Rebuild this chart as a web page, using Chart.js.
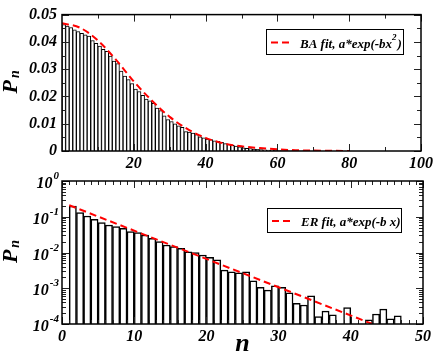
<!DOCTYPE html>
<html>
<head>
<meta charset="utf-8">
<script src="https://cdn.jsdelivr.net/npm/chart.js@4.4.1/dist/chart.umd.min.js"></script>
<style>
  html, body { margin: 0; padding: 0; background: #fff; }
  #wrap { position: relative; width: 436px; height: 356px; }
  canvas { position: absolute; left: 0; }
</style>
</head>
<body>
<div id="wrap">
  <canvas id="baChart" width="436" height="178" style="top:0"></canvas>
  <canvas id="erChart" width="436" height="191" style="top:165px"></canvas>
</div>
<script>
// BA network degree histogram (bins [n, n+1))
const baN = [0,1,2,3,4,5,6,7,8,9,10,11,12,13,14,15,16,17,18,19,20,21,22,23,24,25,26,27,28,29,
  30,31,32,33,34,35,36,37,38,39,40,41,42,43,44,45,46,47,48,49,50,51,52,53,54,55,56,57,58,59,
  60,61,62,63,64,65,66,67,68,69];
const baP = [0.0463,0.0458,0.0452,0.0444,0.0438,0.0431,0.0426,0.0421,0.0405,0.0395,
  0.0385,0.0373,0.0365,0.0348,0.0330,0.0320,0.0293,0.0275,0.0262,0.0247,
  0.0227,0.0218,0.0204,0.0190,0.0184,0.0175,0.0157,0.0148,0.0129,0.0115,
  0.0108,0.0100,0.0092,0.0087,0.0071,0.0069,0.0066,0.0060,0.0052,0.0048,
  0.0044,0.0042,0.0037,0.0035,0.0032,0.0027,0.0024,0.0021,0.0018,0.0015,
  0.0012,0.0010,0.0009,0.0007,0.0006,0.0005,0.0004,0.0003,0.00025,0.0002,
  0.00015,0.0001,0.0001,0.00008,0.00006,0.00005,0.00004,0.00003,0.00002,0.00001];
const baFitN = [0,5,10,15,20,25,30,35,40,45,50,55,60,65,70,75,80];
const baFitP = [0.0468,0.0452,0.0405,0.0335,0.0255,0.0185,0.0125,0.0080,0.0048,
  0.0028,0.0017,0.0011,0.0006,0.0003,0.00015,0.00007,0.00003];
const baXTicks = [20,40,60,80,100];
const baXMinor = [10,30,50,70,90];
const baYTicks = [0,0.01,0.02,0.03,0.04,0.05];
const baYMinor = [0.005,0.015,0.025,0.035,0.045];

// ER network degree histogram, log scale
const erN = [1,2,3,4,5,6,7,8,9,10,11,12,13,14,15,16,17,18,19,20,21,22,23,
  24,25,26,27,28,29,30,31,32,33,34,35,36,37,38,39,40,41,42,43,44,45,46];
const erP = [0.200,0.130,0.105,0.0847,0.0683,0.0588,0.0528,0.0474,0.0383,0.0359,
  0.0309,0.0249,0.0201,0.0162,0.0146,0.0131,0.0105,0.0099,0.0085,0.0073,
  0.0062,0.0032,0.0029,0.0027,0.0029,0.0016,0.00106,0.00089,0.00116,0.00106,
  0.00075,0.00038,0.00034,0.00061,0.00016,0.00023,0.00018,null,0.00029,null,
  null,0.00013,0.00019,0.00026,0.00014,0.00017];
const erFitN = [1,43];
const erFitP = [0.21,0.0001];
const erXTicks = [0,10,20,30,40,50];
const erYTicks = [1e-4,1e-3,1e-2,1e-1,1];
const erYExp = ['-4','-3','-2','-1','0'];

const serif = '"Liberation Serif", "Times New Roman", serif';
const tickFont = { family: serif, size: 16, weight: 'bold', style: 'italic' };

// minor ticks for the two inner axes
const erXMinor = [];
for (let i = 1; i < 50; i++) if (i % 10) erXMinor.push(i);
const erYMinor = [];
erYTicks.slice(0, -1).forEach(d => { for (let m = 2; m < 10; m++) erYMinor.push(m * d); });

function hline(ctx, x1, y1, x2, y2) {
  ctx.beginPath(); ctx.moveTo(x1, y1); ctx.lineTo(x2, y2); ctx.stroke();
}

// frame and inward ticks on all four sides
function framePlugin(t) {
  return {
    id: 'frame',
    afterDraw(chart) {
      const { ctx, chartArea: a, scales: { x, y } } = chart;
      ctx.save();
      ctx.strokeStyle = '#222';
      ctx.lineWidth = 1;
      const xt = (vals, len) => vals.forEach(v => {
        const px = Math.round(x.getPixelForValue(v)) + 0.5;
        hline(ctx, px, a.bottom, px, a.bottom - len);
        hline(ctx, px, a.top, px, a.top + len);
      });
      const yt = (vals, len) => vals.forEach(v => {
        const py = Math.round(y.getPixelForValue(v)) + 0.5;
        hline(ctx, a.left, py, a.left + len, py);
        hline(ctx, a.right, py, a.right - len, py);
      });
      xt(t.xMajor, 7); xt(t.xMinor, 4);
      yt(t.yMajor, 7); yt(t.yMinor, 4);
      ctx.strokeStyle = '#000';
      ctx.lineWidth = 1.5;
      ctx.strokeRect(a.left, a.top, a.right - a.left, a.bottom - a.top);
      ctx.restore();
    }
  };
}

// legend box with red dashed sample and text with optional superscript
function legendPlugin(box, parts) {
  return {
    id: 'fitLegend',
    afterDraw(chart) {
      const ctx = chart.ctx;
      ctx.save();
      ctx.fillStyle = '#fff';
      ctx.fillRect(box.x, box.y, box.w, box.h);
      ctx.strokeStyle = '#000';
      ctx.lineWidth = 1;
      ctx.strokeRect(box.x + 0.5, box.y + 0.5, box.w, box.h);
      const my = box.y + box.h / 2 + 1;
      ctx.strokeStyle = '#ff0000';
      ctx.lineWidth = 2;
      ctx.setLineDash([7, 4]);
      hline(ctx, box.x + 5, my, box.x + 26, my);
      ctx.setLineDash([]);
      ctx.fillStyle = '#000';
      let tx = box.x + 34;
      const by = my + 5;
      parts.forEach(p => {
        ctx.font = p.sup ? 'italic bold 9px ' + serif : 'italic bold 13px ' + serif;
        ctx.fillText(p.t, tx, p.sup ? by - 8 : by);
        tx += ctx.measureText(p.t).width + (p.sup ? 1 : 0);
      });
      ctx.restore();
    }
  };
}

// rotated P_n axis title
function pnTitle() {
  return {
    id: 'pnTitle',
    afterDraw(chart) {
      const { ctx, chartArea: a } = chart;
      const cy = (a.top + a.bottom) / 2;
      ctx.save();
      ctx.translate(17, cy);
      ctx.rotate(-Math.PI / 2);
      ctx.fillStyle = '#000';
      ctx.font = 'italic bold 22px ' + serif;
      const wP = ctx.measureText('P').width;
      ctx.font = 'italic bold 14px ' + serif;
      const wn = ctx.measureText('n').width;
      const x0 = -(wP + wn) / 2;
      ctx.font = 'italic bold 22px ' + serif;
      ctx.fillText('P', x0, 0);
      ctx.font = 'italic bold 14px ' + serif;
      ctx.fillText('n', x0 + wP + 2, 2);
      ctx.restore();
    }
  };
}

// 10^k labels on the log axis
function powerLabels() {
  return {
    id: 'powerLabels',
    afterDraw(chart) {
      const { ctx, scales: { y } } = chart;
      ctx.save();
      ctx.fillStyle = '#000';
      erYTicks.forEach((v, i) => {
        const py = y.getPixelForValue(v);
        ctx.font = 'italic bold 11px ' + serif;
        const ws = ctx.measureText(erYExp[i]).width;
        ctx.font = 'italic bold 16px ' + serif;
        const wb = ctx.measureText('10').width;
        const right = 59;
        ctx.fillText('10', right - ws - wb - 1, py + 7);
        ctx.font = 'italic bold 11px ' + serif;
        ctx.fillText(erYExp[i], right - ws, py - 2);
      });
      ctx.restore();
    }
  };
}

function xTitle() {
  return {
    id: 'xTitle',
    afterDraw(chart) {
      const { ctx, chartArea: a } = chart;
      ctx.save();
      ctx.fillStyle = '#000';
      ctx.font = 'italic bold 26px ' + serif;
      ctx.textAlign = 'center';
      ctx.fillText('n', (a.left + a.right) / 2, 186);
      ctx.restore();
    }
  };
}

// top chart: BA
new Chart(document.getElementById('baChart'), {
  type: 'bar',
  data: {
    datasets: [
      {
        type: 'line',
        data: baFitN.map((n, i) => ({ x: n, y: baFitP[i] })),
        borderColor: '#ff0000',
        borderWidth: 2,
        borderDash: [7, 4],
        pointRadius: 0,
        cubicInterpolationMode: 'monotone',
        order: 0
      },
      {
        data: baN.map((n, i) => ({ x: n + 0.5, y: baP[i] })),
        backgroundColor: '#fff',
        borderColor: '#000',
        borderWidth: 1,
        barPercentage: 1,
        categoryPercentage: 1,
        order: 1
      }
    ]
  },
  options: {
    responsive: false,
    animation: false,
    layout: { padding: { top: 6, right: 13, left: 0, bottom: 0 } },
    plugins: { legend: { display: false }, tooltip: { enabled: false } },
    scales: {
      x: {
        type: 'linear', min: 0, max: 100, offset: false,
        grid: { display: false, drawTicks: false, offset: false },
        border: { display: false },
        afterBuildTicks: s => { s.ticks = baXTicks.map(v => ({ value: v })); },
        afterFit: s => { s.height = 27; },
        ticks: { font: tickFont, color: '#000', padding: 3, maxRotation: 0, autoSkip: false }
      },
      y: {
        min: 0, max: 0.05,
        grid: { display: false, drawTicks: false },
        border: { display: false },
        afterBuildTicks: s => { s.ticks = baYTicks.map(v => ({ value: v })); },
        afterFit: s => { s.width = 62; },
        ticks: {
          font: tickFont, color: '#000', padding: 5,
          callback: v => (v === 0 ? '0' : v.toFixed(2))
        }
      }
    }
  },
  plugins: [
    framePlugin({ xMajor: baXTicks, xMinor: baXMinor, yMajor: baYTicks, yMinor: baYMinor }),
    legendPlugin({ x: 266, y: 29, w: 137, h: 25 },
      [{ t: 'BA fit, a*exp(-bx' }, { t: '2', sup: true }, { t: ')' }]),
    pnTitle()
  ]
});

// bottom chart: ER
new Chart(document.getElementById('erChart'), {
  type: 'bar',
  data: {
    datasets: [
      {
        type: 'line',
        data: erFitN.map((n, i) => ({ x: n, y: erFitP[i] })),
        borderColor: '#ff0000',
        borderWidth: 2,
        borderDash: [7, 4],
        pointRadius: 0,
        order: 0
      },
      {
        data: erN.map((n, i) => ({ x: n + 0.5, y: erP[i] })),
        backgroundColor: '#fff',
        borderColor: '#000',
        borderWidth: 1.5,
        barPercentage: 1,
        categoryPercentage: 1,
        order: 1
      }
    ]
  },
  options: {
    responsive: false,
    animation: false,
    layout: { padding: { top: 16, right: 13, left: 0, bottom: 0 } },
    plugins: { legend: { display: false }, tooltip: { enabled: false } },
    scales: {
      x: {
        type: 'linear', min: 0, max: 50, offset: false,
        grid: { display: false, drawTicks: false, offset: false },
        border: { display: false },
        afterBuildTicks: s => { s.ticks = erXTicks.map(v => ({ value: v })); },
        afterFit: s => { s.height = 32; },
        ticks: { font: tickFont, color: '#000', padding: 3, maxRotation: 0, autoSkip: false }
      },
      y: {
        type: 'logarithmic', min: 1e-4, max: 1,
        grid: { display: false, drawTicks: false },
        border: { display: false },
        afterFit: s => { s.width = 62; },
        ticks: { display: false }
      }
    }
  },
  plugins: [
    framePlugin({ xMajor: erXTicks, xMinor: erXMinor, yMajor: erYTicks, yMinor: erYMinor }),
    legendPlugin({ x: 267, y: 43, w: 134, h: 24 },
      [{ t: 'ER fit, a*exp(-b x)' }]),
    pnTitle(),
    powerLabels(),
    xTitle()
  ]
});
</script>
</body>
</html>
